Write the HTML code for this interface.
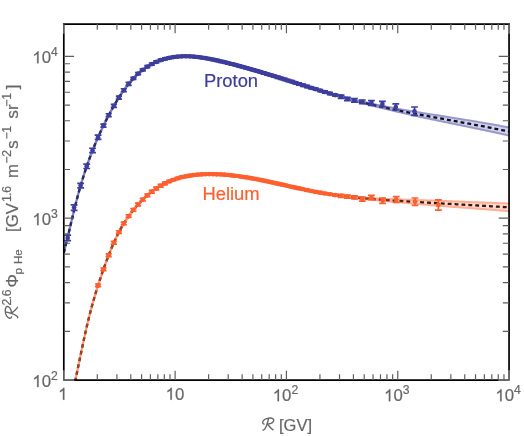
<!DOCTYPE html>
<html><head><meta charset="utf-8"><title>Proton and Helium flux</title>
<style>html,body{margin:0;padding:0;background:#fff;}body{width:524px;height:436px;overflow:hidden;font-family:"Liberation Sans",sans-serif;}</style>
</head><body>
<svg width="524" height="436" viewBox="0 0 524 436" style="display:block;will-change:transform;opacity:0.999" font-family="'Liberation Sans', sans-serif" fill="#666666">
<style>text{stroke:#666666;stroke-width:0.2px;paint-order:stroke} text.p{stroke:#3d3d9e} text.h{stroke:#ff5f2e}</style>
<rect width="524" height="436" fill="#ffffff"/>
<defs>
<linearGradient id="gp" gradientUnits="userSpaceOnUse" x1="330" y1="0" x2="410" y2="0"><stop offset="0" stop-color="#3d3d9e" stop-opacity="0.6"/><stop offset="1" stop-color="#3d3d9e" stop-opacity="0.38"/></linearGradient>
<linearGradient id="gh" gradientUnits="userSpaceOnUse" x1="330" y1="0" x2="410" y2="0"><stop offset="0" stop-color="#ff5f2e" stop-opacity="0.6"/><stop offset="1" stop-color="#ff5f2e" stop-opacity="0.36"/></linearGradient>
<filter id="bl" x="-5%" y="-5%" width="110%" height="110%"><feGaussianBlur stdDeviation="0.35"/></filter>
<clipPath id="cp"><rect x="63.8" y="24.05" width="445.25" height="356.0"/></clipPath></defs>
<g clip-path="url(#cp)"><g filter="url(#bl)">
<path d="M63.80 252.74 L65.30 246.98 L66.80 240.94 L68.30 234.70 L69.80 228.34 L71.30 221.95 L72.80 215.62 L74.30 209.42 L75.80 203.43 L77.30 197.68 L78.80 192.15 L80.30 186.84 L81.80 181.74 L83.30 176.83 L84.80 172.12 L86.30 167.58 L87.80 163.22 L89.30 159.02 L90.80 154.98 L92.30 151.07 L93.80 147.31 L95.30 143.66 L96.80 140.14 L98.30 136.72 L99.80 133.40 L101.30 130.16 L102.80 127.01 L104.30 123.93 L105.80 120.91 L107.30 117.96 L108.80 115.08 L110.30 112.27 L111.80 109.54 L113.30 106.87 L114.80 104.27 L116.30 101.75 L117.80 99.30 L119.30 96.93 L120.80 94.63 L122.30 92.40 L123.80 90.26 L125.30 88.18 L126.80 86.19 L128.30 84.27 L129.80 82.44 L131.30 80.68 L132.80 79.00 L134.30 77.41 L135.80 75.89 L137.30 74.45 L138.80 73.09 L140.30 71.80 L141.80 70.57 L143.30 69.42 L144.80 68.33 L146.30 67.30 L147.80 66.34 L149.30 65.43 L150.80 64.58 L152.30 63.79 L153.80 63.04 L155.30 62.34 L156.80 61.69 L158.30 61.09 L159.80 60.52 L161.30 60.00 L162.80 59.51 L164.30 59.06 L165.80 58.65 L167.30 58.27 L168.80 57.93 L170.30 57.62 L171.80 57.35 L173.30 57.11 L174.80 56.90 L176.30 56.72 L177.80 56.57 L179.30 56.45 L180.80 56.36 L182.30 56.30 L183.80 56.26 L185.30 56.25 L186.80 56.26 L188.30 56.29 L189.80 56.35 L191.30 56.44 L192.80 56.54 L194.30 56.66 L195.80 56.81 L197.30 56.97 L198.80 57.15 L200.30 57.35 L201.80 57.56 L203.30 57.79 L204.80 58.03 L206.30 58.29 L207.80 58.56 L209.30 58.85 L210.80 59.14 L212.30 59.44 L213.80 59.76 L215.30 60.08 L216.80 60.41 L218.30 60.75 L219.80 61.09 L221.30 61.44 L222.80 61.79 L224.30 62.15 L225.80 62.51 L227.30 62.88 L228.80 63.25 L230.30 63.63 L231.80 64.01 L233.30 64.40 L234.80 64.79 L236.30 65.18 L237.80 65.58 L239.30 65.98 L240.80 66.39 L242.30 66.80 L243.80 67.21 L245.30 67.63 L246.80 68.05 L248.30 68.47 L249.80 68.90 L251.30 69.33 L252.80 69.76 L254.30 70.19 L255.80 70.63 L257.30 71.07 L258.80 71.52 L260.30 71.96 L261.80 72.41 L263.30 72.86 L264.80 73.31 L266.30 73.77 L267.80 74.22 L269.30 74.68 L270.80 75.14 L272.30 75.60 L273.80 76.07 L275.30 76.53 L276.80 77.00 L278.30 77.46 L279.80 77.93 L281.30 78.40 L282.80 78.87 L284.30 79.34 L285.80 79.81 L287.30 80.28 L288.80 80.76 L290.30 81.23 L291.80 81.70 L293.30 82.17 L294.80 82.65 L296.30 83.12 L297.80 83.59 L299.30 84.07 L300.80 84.54 L302.30 85.01 L303.80 85.48 L305.30 85.95 L306.80 86.42 L308.30 86.89 L309.80 87.36 L311.30 87.83 L312.80 88.29 L314.30 88.76 L315.80 89.22 L317.30 89.68 L318.80 90.14 L320.30 90.60 L321.80 91.06 L323.30 91.51 L324.80 91.96 L326.30 92.41 L327.80 92.86 L329.30 93.31 L330.80 93.75 L332.30 94.19 L333.80 94.63 L335.30 95.07 L336.80 95.50 L338.30 95.93 L339.80 96.36 L341.30 96.78 L342.80 97.20 L344.30 97.62 L345.80 98.03 L347.30 98.44 L348.80 98.85 L350.30 99.25 L351.80 99.65 L353.30 100.04 L354.80 100.43 L356.30 100.82 L357.80 101.20 L359.30 101.59 L360.80 101.96 L362.30 102.34 L363.80 102.71 L365.30 103.07 L366.80 103.43 L368.30 103.79 L369.80 104.15 L371.30 104.51 L372.80 104.86 L374.30 105.20 L375.80 105.55 L377.30 105.89 L378.80 106.23 L380.30 106.57 L381.80 106.90 L383.30 107.23 L384.80 107.56 L386.30 107.89 L387.80 108.21 L389.30 108.53 L390.80 108.85 L392.30 109.17 L393.80 109.48 L395.30 109.79 L396.80 110.10 L398.30 110.41 L399.80 110.72 L401.30 111.02 L402.80 111.32 L404.30 111.62 L405.80 111.92 L407.30 112.22 L408.80 112.52 L410.30 112.81 L411.80 113.10 L413.30 113.39 L414.80 113.68 L416.30 113.97 L417.80 114.26 L419.30 114.54 L420.80 114.83 L422.30 115.11 L423.80 115.39 L425.30 115.67 L426.80 115.95 L428.30 116.23 L429.80 116.51 L431.30 116.79 L432.80 117.06 L434.30 117.34 L435.80 117.62 L437.30 117.89 L438.80 118.17 L440.30 118.44 L441.80 118.71 L443.30 118.99 L444.80 119.26 L446.30 119.53 L447.80 119.81 L449.30 120.08 L450.80 120.35 L452.30 120.63 L453.80 120.90 L455.30 121.17 L456.80 121.45 L458.30 121.72 L459.80 121.99 L461.30 122.27 L462.80 122.54 L464.30 122.82 L465.80 123.09 L467.30 123.37 L468.80 123.65 L470.30 123.92 L471.80 124.20 L473.30 124.48 L474.80 124.76 L476.30 125.05 L477.80 125.33 L479.30 125.61 L480.80 125.90 L482.30 126.18 L483.80 126.47 L485.30 126.76 L486.80 127.05 L488.30 127.34 L489.80 127.63 L491.30 127.93 L492.80 128.22 L494.30 128.52 L495.80 128.82 L497.30 129.12 L498.80 129.42 L500.30 129.73 L501.80 130.04 L503.30 130.34 L504.80 130.65 L506.30 130.97 L509.05 131.55" stroke="#000" stroke-width="2.3" stroke-dasharray="3.9 3.0" fill="none"/>
<path d="M63.80 435.52 L65.30 428.48 L66.80 421.39 L68.30 414.25 L69.80 407.07 L71.30 399.86 L72.80 392.63 L74.30 385.39 L75.80 378.13 L77.30 370.88 L78.80 363.64 L80.30 356.41 L81.80 349.22 L83.30 342.13 L84.80 335.22 L86.30 328.57 L87.80 322.22 L89.30 316.14 L90.80 310.34 L92.30 304.77 L93.80 299.44 L95.30 294.32 L96.80 289.38 L98.30 284.63 L99.80 280.03 L101.30 275.57 L102.80 271.23 L104.30 267.00 L105.80 262.88 L107.30 258.86 L108.80 254.95 L110.30 251.17 L111.80 247.52 L113.30 243.99 L114.80 240.61 L116.30 237.37 L117.80 234.28 L119.30 231.34 L120.80 228.56 L122.30 225.92 L123.80 223.42 L125.30 221.04 L126.80 218.77 L128.30 216.61 L129.80 214.55 L131.30 212.57 L132.80 210.66 L134.30 208.82 L135.80 207.05 L137.30 205.34 L138.80 203.68 L140.30 202.09 L141.80 200.55 L143.30 199.07 L144.80 197.65 L146.30 196.28 L147.80 194.96 L149.30 193.70 L150.80 192.49 L152.30 191.33 L153.80 190.22 L155.30 189.16 L156.80 188.15 L158.30 187.18 L159.80 186.25 L161.30 185.38 L162.80 184.54 L164.30 183.75 L165.80 182.99 L167.30 182.28 L168.80 181.61 L170.30 180.97 L171.80 180.37 L173.30 179.80 L174.80 179.28 L176.30 178.78 L177.80 178.31 L179.30 177.88 L180.80 177.48 L182.30 177.11 L183.80 176.76 L185.30 176.44 L186.80 176.15 L188.30 175.88 L189.80 175.64 L191.30 175.42 L192.80 175.22 L194.30 175.04 L195.80 174.88 L197.30 174.74 L198.80 174.61 L200.30 174.51 L201.80 174.41 L203.30 174.34 L204.80 174.28 L206.30 174.23 L207.80 174.19 L209.30 174.18 L210.80 174.17 L212.30 174.18 L213.80 174.20 L215.30 174.23 L216.80 174.28 L218.30 174.34 L219.80 174.41 L221.30 174.49 L222.80 174.59 L224.30 174.69 L225.80 174.81 L227.30 174.94 L228.80 175.08 L230.30 175.23 L231.80 175.38 L233.30 175.55 L234.80 175.73 L236.30 175.92 L237.80 176.11 L239.30 176.32 L240.80 176.53 L242.30 176.75 L243.80 176.98 L245.30 177.21 L246.80 177.46 L248.30 177.71 L249.80 177.97 L251.30 178.23 L252.80 178.50 L254.30 178.77 L255.80 179.06 L257.30 179.34 L258.80 179.63 L260.30 179.93 L261.80 180.23 L263.30 180.54 L264.80 180.85 L266.30 181.16 L267.80 181.48 L269.30 181.80 L270.80 182.12 L272.30 182.45 L273.80 182.78 L275.30 183.11 L276.80 183.44 L278.30 183.77 L279.80 184.11 L281.30 184.44 L282.80 184.78 L284.30 185.12 L285.80 185.46 L287.30 185.79 L288.80 186.13 L290.30 186.47 L291.80 186.81 L293.30 187.14 L294.80 187.48 L296.30 187.81 L297.80 188.14 L299.30 188.47 L300.80 188.79 L302.30 189.12 L303.80 189.44 L305.30 189.75 L306.80 190.07 L308.30 190.38 L309.80 190.68 L311.30 190.98 L312.80 191.28 L314.30 191.57 L315.80 191.86 L317.30 192.14 L318.80 192.42 L320.30 192.69 L321.80 192.95 L323.30 193.21 L324.80 193.46 L326.30 193.71 L327.80 193.95 L329.30 194.18 L330.80 194.41 L332.30 194.64 L333.80 194.85 L335.30 195.07 L336.80 195.28 L338.30 195.48 L339.80 195.68 L341.30 195.87 L342.80 196.06 L344.30 196.25 L345.80 196.43 L347.30 196.61 L348.80 196.78 L350.30 196.95 L351.80 197.11 L353.30 197.27 L354.80 197.43 L356.30 197.58 L357.80 197.73 L359.30 197.88 L360.80 198.02 L362.30 198.16 L363.80 198.30 L365.30 198.43 L366.80 198.56 L368.30 198.69 L369.80 198.81 L371.30 198.94 L372.80 199.06 L374.30 199.17 L375.80 199.29 L377.30 199.40 L378.80 199.51 L380.30 199.62 L381.80 199.73 L383.30 199.84 L384.80 199.94 L386.30 200.04 L387.80 200.15 L389.30 200.25 L390.80 200.35 L392.30 200.44 L393.80 200.54 L395.30 200.64 L396.80 200.73 L398.30 200.83 L399.80 200.92 L401.30 201.02 L402.80 201.11 L404.30 201.20 L405.80 201.30 L407.30 201.39 L408.80 201.48 L410.30 201.57 L411.80 201.67 L413.30 201.76 L414.80 201.85 L416.30 201.94 L417.80 202.03 L419.30 202.12 L420.80 202.21 L422.30 202.30 L423.80 202.39 L425.30 202.48 L426.80 202.57 L428.30 202.66 L429.80 202.74 L431.30 202.83 L432.80 202.92 L434.30 203.01 L435.80 203.10 L437.30 203.18 L438.80 203.27 L440.30 203.36 L441.80 203.45 L443.30 203.53 L444.80 203.62 L446.30 203.71 L447.80 203.79 L449.30 203.88 L450.80 203.97 L452.30 204.05 L453.80 204.14 L455.30 204.22 L456.80 204.31 L458.30 204.40 L459.80 204.48 L461.30 204.57 L462.80 204.65 L464.30 204.74 L465.80 204.82 L467.30 204.91 L468.80 205.00 L470.30 205.08 L471.80 205.17 L473.30 205.25 L474.80 205.34 L476.30 205.43 L477.80 205.51 L479.30 205.60 L480.80 205.68 L482.30 205.77 L483.80 205.86 L485.30 205.94 L486.80 206.03 L488.30 206.11 L489.80 206.20 L491.30 206.29 L492.80 206.38 L494.30 206.46 L495.80 206.55 L497.30 206.64 L498.80 206.72 L500.30 206.81 L501.80 206.90 L503.30 206.99 L504.80 207.08 L506.30 207.16 L509.05 207.33" stroke="#000" stroke-width="2.3" stroke-dasharray="3.9 3.0" fill="none"/>
<path d="M63.80 251.14 L65.30 245.38 L66.80 239.34 L68.30 233.10 L69.80 226.74 L71.30 220.35 L72.80 214.02 L74.30 207.82 L75.80 201.83 L77.30 196.08 L78.80 190.55 L80.30 185.24 L81.80 180.14 L83.30 175.23 L84.80 170.52 L86.30 165.98 L87.80 161.62 L89.30 157.42 L90.80 153.38 L92.30 149.47 L93.80 145.71 L95.30 142.06 L96.80 138.54 L98.30 135.12 L99.80 131.80 L101.30 128.56 L102.80 125.41 L104.30 122.33 L105.80 119.31 L107.30 116.36 L108.80 113.48 L110.30 110.67 L111.80 107.94 L113.30 105.27 L114.80 102.67 L116.30 100.15 L117.80 97.70 L119.30 95.33 L120.80 93.03 L122.30 90.80 L123.80 88.66 L125.30 86.58 L126.80 84.59 L128.30 82.67 L129.80 80.84 L131.30 79.08 L132.80 77.40 L134.30 75.81 L135.80 74.29 L137.30 72.85 L138.80 71.49 L140.30 70.20 L141.80 68.97 L143.30 67.82 L144.80 66.73 L146.30 65.70 L147.80 64.74 L149.30 63.83 L150.80 62.98 L152.30 62.19 L153.80 61.44 L155.30 60.74 L156.80 60.09 L158.30 59.49 L159.80 58.92 L161.30 58.40 L162.80 57.91 L164.30 57.46 L165.80 57.05 L167.30 56.67 L168.80 56.33 L170.30 56.02 L171.80 55.75 L173.30 55.51 L174.80 55.30 L176.30 55.12 L177.80 54.97 L179.30 54.85 L180.80 54.76 L182.30 54.70 L183.80 54.66 L185.30 54.65 L186.80 54.66 L188.30 54.69 L189.80 54.75 L191.30 54.84 L192.80 54.94 L194.30 55.06 L195.80 55.21 L197.30 55.37 L198.80 55.55 L200.30 55.75 L201.80 55.96 L203.30 56.19 L204.80 56.43 L206.30 56.69 L207.80 56.96 L209.30 57.25 L210.80 57.54 L212.30 57.84 L213.80 58.16 L215.30 58.48 L216.80 58.81 L218.30 59.15 L219.80 59.49 L221.30 59.84 L222.80 60.19 L224.30 60.55 L225.80 60.91 L227.30 61.28 L228.80 61.65 L230.30 62.03 L231.80 62.41 L233.30 62.80 L234.80 63.19 L236.30 63.58 L237.80 63.98 L239.30 64.38 L240.80 64.79 L242.30 65.20 L243.80 65.61 L245.30 66.03 L246.80 66.45 L248.30 66.87 L249.80 67.30 L251.30 67.73 L252.80 68.16 L254.30 68.59 L255.80 69.03 L257.30 69.47 L258.80 69.92 L260.30 70.36 L261.80 70.81 L263.30 71.26 L264.80 71.71 L266.30 72.17 L267.80 72.62 L269.30 73.08 L270.80 73.54 L272.30 74.00 L273.80 74.47 L275.30 74.93 L276.80 75.40 L278.30 75.86 L279.80 76.33 L281.30 76.80 L282.80 77.27 L284.30 77.74 L285.80 78.21 L287.30 78.68 L288.80 79.16 L290.30 79.63 L291.80 80.10 L293.30 80.57 L294.80 81.05 L296.30 81.52 L297.80 81.99 L299.30 82.47 L300.80 82.94 L302.30 83.41 L303.80 83.88 L305.30 84.35 L306.80 84.82 L308.30 85.29 L309.80 85.76 L311.30 86.23 L312.80 86.69 L314.30 87.16 L315.80 87.62 L317.30 88.08 L318.80 88.54 L320.30 89.00 L321.80 89.46 L323.30 89.91 L324.80 90.36 L326.30 90.81 L327.80 91.26 L329.30 91.71 L330.80 92.15 L332.30 92.59 L333.80 93.03 L335.30 93.47 L336.80 93.90 L338.30 94.33 L339.80 94.76 L341.30 95.18 L342.80 95.60 L344.30 96.01 L345.80 96.42 L347.30 96.82 L348.80 97.22 L350.30 97.61 L351.80 98.00 L353.30 98.39 L354.80 98.76 L356.30 99.14 L357.80 99.51 L359.30 99.87 L360.80 100.23 L362.30 100.59 L363.80 100.94 L365.30 101.28 L366.80 101.63 L368.30 101.97 L369.80 102.30 L371.30 102.64 L372.80 102.97 L374.30 103.29 L375.80 103.61 L377.30 103.93 L378.80 104.25 L380.30 104.56 L381.80 104.87 L383.30 105.17 L384.80 105.46 L386.30 105.75 L387.80 106.03 L389.30 106.31 L390.80 106.58 L392.30 106.85 L393.80 107.12 L395.30 107.39 L396.80 107.65 L398.30 107.91 L399.80 108.17 L401.30 108.43 L402.80 108.69 L404.30 108.95 L405.80 109.20 L407.30 109.45 L408.80 109.70 L410.30 109.94 L411.80 110.19 L413.30 110.43 L414.80 110.68 L416.30 110.92 L417.80 111.16 L419.30 111.41 L420.80 111.66 L422.30 111.90 L423.80 112.15 L425.30 112.39 L426.80 112.64 L428.30 112.89 L429.80 113.13 L431.30 113.38 L432.80 113.62 L434.30 113.87 L435.80 114.11 L437.30 114.35 L438.80 114.59 L440.30 114.83 L441.80 115.07 L443.30 115.31 L444.80 115.55 L446.30 115.79 L447.80 116.02 L449.30 116.26 L450.80 116.49 L452.30 116.73 L453.80 116.97 L455.30 117.20 L456.80 117.44 L458.30 117.68 L459.80 117.92 L461.30 118.16 L462.80 118.40 L464.30 118.64 L465.80 118.88 L467.30 119.13 L468.80 119.37 L470.30 119.62 L471.80 119.87 L473.30 120.12 L474.80 120.37 L476.30 120.62 L477.80 120.87 L479.30 121.13 L480.80 121.38 L482.30 121.64 L483.80 121.90 L485.30 122.16 L486.80 122.43 L488.30 122.69 L489.80 122.96 L491.30 123.22 L492.80 123.49 L494.30 123.77 L495.80 124.04 L497.30 124.32 L498.80 124.59 L500.30 124.87 L501.80 125.16 L503.30 125.44 L504.80 125.73 L506.30 126.02 L509.05 126.56 L509.05 136.53 L506.30 135.91 L504.80 135.58 L503.30 135.24 L501.80 134.91 L500.30 134.58 L498.80 134.25 L497.30 133.93 L495.80 133.60 L494.30 133.27 L492.80 132.95 L491.30 132.63 L489.80 132.31 L488.30 131.99 L486.80 131.67 L485.30 131.35 L483.80 131.04 L482.30 130.72 L480.80 130.41 L479.30 130.09 L477.80 129.78 L476.30 129.47 L474.80 129.16 L473.30 128.85 L471.80 128.54 L470.30 128.23 L468.80 127.92 L467.30 127.61 L465.80 127.30 L464.30 127.00 L462.80 126.69 L461.30 126.38 L459.80 126.07 L458.30 125.76 L456.80 125.45 L455.30 125.14 L453.80 124.83 L452.30 124.52 L450.80 124.21 L449.30 123.90 L447.80 123.59 L446.30 123.28 L444.80 122.97 L443.30 122.66 L441.80 122.36 L440.30 122.05 L438.80 121.74 L437.30 121.43 L435.80 121.12 L434.30 120.81 L432.80 120.51 L431.30 120.20 L429.80 119.89 L428.30 119.58 L426.80 119.26 L425.30 118.95 L423.80 118.63 L422.30 118.32 L420.80 118.00 L419.30 117.67 L417.80 117.35 L416.30 117.02 L414.80 116.69 L413.30 116.35 L411.80 116.01 L410.30 115.68 L408.80 115.33 L407.30 114.99 L405.80 114.65 L404.30 114.30 L402.80 113.96 L401.30 113.61 L399.80 113.26 L398.30 112.91 L396.80 112.56 L395.30 112.20 L393.80 111.84 L392.30 111.48 L390.80 111.12 L389.30 110.75 L387.80 110.39 L386.30 110.02 L384.80 109.66 L383.30 109.29 L381.80 108.93 L380.30 108.57 L378.80 108.21 L377.30 107.85 L375.80 107.48 L374.30 107.12 L372.80 106.75 L371.30 106.37 L369.80 106.00 L368.30 105.62 L366.80 105.24 L365.30 104.86 L363.80 104.47 L362.30 104.08 L360.80 103.69 L359.30 103.30 L357.80 102.90 L356.30 102.51 L354.80 102.10 L353.30 101.70 L351.80 101.29 L350.30 100.88 L348.80 100.47 L347.30 100.06 L345.80 99.64 L344.30 99.22 L342.80 98.80 L341.30 98.38 L339.80 97.96 L338.30 97.53 L336.80 97.10 L335.30 96.67 L333.80 96.23 L332.30 95.79 L330.80 95.35 L329.30 94.91 L327.80 94.46 L326.30 94.01 L324.80 93.56 L323.30 93.11 L321.80 92.66 L320.30 92.20 L318.80 91.74 L317.30 91.28 L315.80 90.82 L314.30 90.36 L312.80 89.89 L311.30 89.43 L309.80 88.96 L308.30 88.49 L306.80 88.02 L305.30 87.55 L303.80 87.08 L302.30 86.61 L300.80 86.14 L299.30 85.67 L297.80 85.19 L296.30 84.72 L294.80 84.25 L293.30 83.77 L291.80 83.30 L290.30 82.83 L288.80 82.36 L287.30 81.88 L285.80 81.41 L284.30 80.94 L282.80 80.47 L281.30 80.00 L279.80 79.53 L278.30 79.06 L276.80 78.60 L275.30 78.13 L273.80 77.67 L272.30 77.20 L270.80 76.74 L269.30 76.28 L267.80 75.82 L266.30 75.37 L264.80 74.91 L263.30 74.46 L261.80 74.01 L260.30 73.56 L258.80 73.12 L257.30 72.67 L255.80 72.23 L254.30 71.79 L252.80 71.36 L251.30 70.93 L249.80 70.50 L248.30 70.07 L246.80 69.65 L245.30 69.23 L243.80 68.81 L242.30 68.40 L240.80 67.99 L239.30 67.58 L237.80 67.18 L236.30 66.78 L234.80 66.39 L233.30 66.00 L231.80 65.61 L230.30 65.23 L228.80 64.85 L227.30 64.48 L225.80 64.11 L224.30 63.75 L222.80 63.39 L221.30 63.04 L219.80 62.69 L218.30 62.35 L216.80 62.01 L215.30 61.68 L213.80 61.36 L212.30 61.04 L210.80 60.74 L209.30 60.45 L207.80 60.16 L206.30 59.89 L204.80 59.63 L203.30 59.39 L201.80 59.16 L200.30 58.95 L198.80 58.75 L197.30 58.57 L195.80 58.41 L194.30 58.26 L192.80 58.14 L191.30 58.04 L189.80 57.95 L188.30 57.89 L186.80 57.86 L185.30 57.85 L183.80 57.86 L182.30 57.90 L180.80 57.96 L179.30 58.05 L177.80 58.17 L176.30 58.32 L174.80 58.50 L173.30 58.71 L171.80 58.95 L170.30 59.22 L168.80 59.53 L167.30 59.87 L165.80 60.25 L164.30 60.66 L162.80 61.11 L161.30 61.60 L159.80 62.12 L158.30 62.69 L156.80 63.29 L155.30 63.94 L153.80 64.64 L152.30 65.39 L150.80 66.18 L149.30 67.03 L147.80 67.94 L146.30 68.90 L144.80 69.93 L143.30 71.02 L141.80 72.17 L140.30 73.40 L138.80 74.69 L137.30 76.05 L135.80 77.49 L134.30 79.01 L132.80 80.60 L131.30 82.28 L129.80 84.04 L128.30 85.87 L126.80 87.79 L125.30 89.78 L123.80 91.86 L122.30 94.00 L120.80 96.23 L119.30 98.53 L117.80 100.90 L116.30 103.35 L114.80 105.87 L113.30 108.47 L111.80 111.14 L110.30 113.87 L108.80 116.68 L107.30 119.56 L105.80 122.51 L104.30 125.53 L102.80 128.61 L101.30 131.76 L99.80 135.00 L98.30 138.32 L96.80 141.74 L95.30 145.26 L93.80 148.91 L92.30 152.67 L90.80 156.58 L89.30 160.62 L87.80 164.82 L86.30 169.18 L84.80 173.72 L83.30 178.43 L81.80 183.34 L80.30 188.44 L78.80 193.75 L77.30 199.28 L75.80 205.03 L74.30 211.02 L72.80 217.22 L71.30 223.55 L69.80 229.94 L68.30 236.30 L66.80 242.54 L65.30 248.58 L63.80 254.34Z" fill="#3d3d9e" fill-opacity="0.24"/>
<path d="M63.80 252.14 L65.30 246.38 L66.80 240.34 L68.30 234.10 L69.80 227.74 L71.30 221.35 L72.80 215.02 L74.30 208.82 L75.80 202.83 L77.30 197.08 L78.80 191.55 L80.30 186.24 L81.80 181.14 L83.30 176.23 L84.80 171.52 L86.30 166.98 L87.80 162.62 L89.30 158.42 L90.80 154.38 L92.30 150.47 L93.80 146.71 L95.30 143.06 L96.80 139.54 L98.30 136.12 L99.80 132.80 L101.30 129.56 L102.80 126.41 L104.30 123.33 L105.80 120.31 L107.30 117.36 L108.80 114.48 L110.30 111.67 L111.80 108.94 L113.30 106.27 L114.80 103.67 L116.30 101.15 L117.80 98.70 L119.30 96.33 L120.80 94.03 L122.30 91.80 L123.80 89.66 L125.30 87.58 L126.80 85.59 L128.30 83.67 L129.80 81.84 L131.30 80.08 L132.80 78.40 L134.30 76.81 L135.80 75.29 L137.30 73.85 L138.80 72.49 L140.30 71.20 L141.80 69.97 L143.30 68.82 L144.80 67.73 L146.30 66.70 L147.80 65.74 L149.30 64.83 L150.80 63.98 L152.30 63.19 L153.80 62.44 L155.30 61.74 L156.80 61.09 L158.30 60.49 L159.80 59.92 L161.30 59.40 L162.80 58.91 L164.30 58.46 L165.80 58.05 L167.30 57.67 L168.80 57.33 L170.30 57.02 L171.80 56.75 L173.30 56.51 L174.80 56.30 L176.30 56.12 L177.80 55.97 L179.30 55.85 L180.80 55.76 L182.30 55.70 L183.80 55.66 L185.30 55.65 L186.80 55.66 L188.30 55.69 L189.80 55.75 L191.30 55.84 L192.80 55.94 L194.30 56.06 L195.80 56.21 L197.30 56.37 L198.80 56.55 L200.30 56.75 L201.80 56.96 L203.30 57.19 L204.80 57.43 L206.30 57.69 L207.80 57.96 L209.30 58.25 L210.80 58.54 L212.30 58.84 L213.80 59.16 L215.30 59.48 L216.80 59.81 L218.30 60.15 L219.80 60.49 L221.30 60.84 L222.80 61.19 L224.30 61.55 L225.80 61.91 L227.30 62.28 L228.80 62.65 L230.30 63.03 L231.80 63.41 L233.30 63.80 L234.80 64.19 L236.30 64.58 L237.80 64.98 L239.30 65.38 L240.80 65.79 L242.30 66.20 L243.80 66.61 L245.30 67.03 L246.80 67.45 L248.30 67.87 L249.80 68.30 L251.30 68.73 L252.80 69.16 L254.30 69.59 L255.80 70.03 L257.30 70.47 L258.80 70.92 L260.30 71.36 L261.80 71.81 L263.30 72.26 L264.80 72.71 L266.30 73.17 L267.80 73.62 L269.30 74.08 L270.80 74.54 L272.30 75.00 L273.80 75.47 L275.30 75.93 L276.80 76.40 L278.30 76.86 L279.80 77.33 L281.30 77.80 L282.80 78.27 L284.30 78.74 L285.80 79.21 L287.30 79.68 L288.80 80.16 L290.30 80.63 L291.80 81.10 L293.30 81.57 L294.80 82.05 L296.30 82.52 L297.80 82.99 L299.30 83.47 L300.80 83.94 L302.30 84.41 L303.80 84.88 L305.30 85.35 L306.80 85.82 L308.30 86.29 L309.80 86.76 L311.30 87.23 L312.80 87.69 L314.30 88.16 L315.80 88.62 L317.30 89.08 L318.80 89.54 L320.30 90.00 L321.80 90.46 L323.30 90.91 L324.80 91.36 L326.30 91.81 L327.80 92.26 L329.30 92.71 L330.80 93.15 L332.30 93.59 L333.80 94.03 L335.30 94.47 L336.80 94.90 L338.30 95.33 L339.80 95.76 L341.30 96.18 L342.80 96.60 L344.30 97.01 L345.80 97.42 L347.30 97.82 L348.80 98.22 L350.30 98.61 L351.80 99.00 L353.30 99.39 L354.80 99.76 L356.30 100.14 L357.80 100.51 L359.30 100.87 L360.80 101.23 L362.30 101.59 L363.80 101.94 L365.30 102.28 L366.80 102.63 L368.30 102.97 L369.80 103.30 L371.30 103.64 L372.80 103.97 L374.30 104.29 L375.80 104.61 L377.30 104.93 L378.80 105.25 L380.30 105.56 L381.80 105.87 L383.30 106.17 L384.80 106.46 L386.30 106.75 L387.80 107.03 L389.30 107.31 L390.80 107.58 L392.30 107.85 L393.80 108.12 L395.30 108.39 L396.80 108.65 L398.30 108.91 L399.80 109.17 L401.30 109.43 L402.80 109.69 L404.30 109.95 L405.80 110.20 L407.30 110.45 L408.80 110.70 L410.30 110.94 L411.80 111.19 L413.30 111.43 L414.80 111.68 L416.30 111.92 L417.80 112.16 L419.30 112.41 L420.80 112.66 L422.30 112.90 L423.80 113.15 L425.30 113.39 L426.80 113.64 L428.30 113.89 L429.80 114.13 L431.30 114.38 L432.80 114.62 L434.30 114.87 L435.80 115.11 L437.30 115.35 L438.80 115.59 L440.30 115.83 L441.80 116.07 L443.30 116.31 L444.80 116.55 L446.30 116.79 L447.80 117.02 L449.30 117.26 L450.80 117.49 L452.30 117.73 L453.80 117.97 L455.30 118.20 L456.80 118.44 L458.30 118.68 L459.80 118.92 L461.30 119.16 L462.80 119.40 L464.30 119.64 L465.80 119.88 L467.30 120.13 L468.80 120.37 L470.30 120.62 L471.80 120.87 L473.30 121.12 L474.80 121.37 L476.30 121.62 L477.80 121.87 L479.30 122.13 L480.80 122.38 L482.30 122.64 L483.80 122.90 L485.30 123.16 L486.80 123.43 L488.30 123.69 L489.80 123.96 L491.30 124.22 L492.80 124.49 L494.30 124.77 L495.80 125.04 L497.30 125.32 L498.80 125.59 L500.30 125.87 L501.80 126.16 L503.30 126.44 L504.80 126.73 L506.30 127.02 L509.05 127.56M63.80 253.34 L65.30 247.58 L66.80 241.54 L68.30 235.30 L69.80 228.94 L71.30 222.55 L72.80 216.22 L74.30 210.02 L75.80 204.03 L77.30 198.28 L78.80 192.75 L80.30 187.44 L81.80 182.34 L83.30 177.43 L84.80 172.72 L86.30 168.18 L87.80 163.82 L89.30 159.62 L90.80 155.58 L92.30 151.67 L93.80 147.91 L95.30 144.26 L96.80 140.74 L98.30 137.32 L99.80 134.00 L101.30 130.76 L102.80 127.61 L104.30 124.53 L105.80 121.51 L107.30 118.56 L108.80 115.68 L110.30 112.87 L111.80 110.14 L113.30 107.47 L114.80 104.87 L116.30 102.35 L117.80 99.90 L119.30 97.53 L120.80 95.23 L122.30 93.00 L123.80 90.86 L125.30 88.78 L126.80 86.79 L128.30 84.87 L129.80 83.04 L131.30 81.28 L132.80 79.60 L134.30 78.01 L135.80 76.49 L137.30 75.05 L138.80 73.69 L140.30 72.40 L141.80 71.17 L143.30 70.02 L144.80 68.93 L146.30 67.90 L147.80 66.94 L149.30 66.03 L150.80 65.18 L152.30 64.39 L153.80 63.64 L155.30 62.94 L156.80 62.29 L158.30 61.69 L159.80 61.12 L161.30 60.60 L162.80 60.11 L164.30 59.66 L165.80 59.25 L167.30 58.87 L168.80 58.53 L170.30 58.22 L171.80 57.95 L173.30 57.71 L174.80 57.50 L176.30 57.32 L177.80 57.17 L179.30 57.05 L180.80 56.96 L182.30 56.90 L183.80 56.86 L185.30 56.85 L186.80 56.86 L188.30 56.89 L189.80 56.95 L191.30 57.04 L192.80 57.14 L194.30 57.26 L195.80 57.41 L197.30 57.57 L198.80 57.75 L200.30 57.95 L201.80 58.16 L203.30 58.39 L204.80 58.63 L206.30 58.89 L207.80 59.16 L209.30 59.45 L210.80 59.74 L212.30 60.04 L213.80 60.36 L215.30 60.68 L216.80 61.01 L218.30 61.35 L219.80 61.69 L221.30 62.04 L222.80 62.39 L224.30 62.75 L225.80 63.11 L227.30 63.48 L228.80 63.85 L230.30 64.23 L231.80 64.61 L233.30 65.00 L234.80 65.39 L236.30 65.78 L237.80 66.18 L239.30 66.58 L240.80 66.99 L242.30 67.40 L243.80 67.81 L245.30 68.23 L246.80 68.65 L248.30 69.07 L249.80 69.50 L251.30 69.93 L252.80 70.36 L254.30 70.79 L255.80 71.23 L257.30 71.67 L258.80 72.12 L260.30 72.56 L261.80 73.01 L263.30 73.46 L264.80 73.91 L266.30 74.37 L267.80 74.82 L269.30 75.28 L270.80 75.74 L272.30 76.20 L273.80 76.67 L275.30 77.13 L276.80 77.60 L278.30 78.06 L279.80 78.53 L281.30 79.00 L282.80 79.47 L284.30 79.94 L285.80 80.41 L287.30 80.88 L288.80 81.36 L290.30 81.83 L291.80 82.30 L293.30 82.77 L294.80 83.25 L296.30 83.72 L297.80 84.19 L299.30 84.67 L300.80 85.14 L302.30 85.61 L303.80 86.08 L305.30 86.55 L306.80 87.02 L308.30 87.49 L309.80 87.96 L311.30 88.43 L312.80 88.89 L314.30 89.36 L315.80 89.82 L317.30 90.28 L318.80 90.74 L320.30 91.20 L321.80 91.66 L323.30 92.11 L324.80 92.56 L326.30 93.01 L327.80 93.46 L329.30 93.91 L330.80 94.35 L332.30 94.79 L333.80 95.23 L335.30 95.67 L336.80 96.10 L338.30 96.53 L339.80 96.96 L341.30 97.38 L342.80 97.80 L344.30 98.22 L345.80 98.64 L347.30 99.06 L348.80 99.47 L350.30 99.88 L351.80 100.29 L353.30 100.70 L354.80 101.10 L356.30 101.51 L357.80 101.90 L359.30 102.30 L360.80 102.69 L362.30 103.08 L363.80 103.47 L365.30 103.86 L366.80 104.24 L368.30 104.62 L369.80 105.00 L371.30 105.37 L372.80 105.75 L374.30 106.12 L375.80 106.48 L377.30 106.85 L378.80 107.21 L380.30 107.57 L381.80 107.93 L383.30 108.29 L384.80 108.66 L386.30 109.02 L387.80 109.39 L389.30 109.75 L390.80 110.12 L392.30 110.48 L393.80 110.84 L395.30 111.20 L396.80 111.56 L398.30 111.91 L399.80 112.26 L401.30 112.61 L402.80 112.96 L404.30 113.30 L405.80 113.65 L407.30 113.99 L408.80 114.33 L410.30 114.68 L411.80 115.01 L413.30 115.35 L414.80 115.69 L416.30 116.02 L417.80 116.35 L419.30 116.67 L420.80 117.00 L422.30 117.32 L423.80 117.63 L425.30 117.95 L426.80 118.26 L428.30 118.58 L429.80 118.89 L431.30 119.20 L432.80 119.51 L434.30 119.81 L435.80 120.12 L437.30 120.43 L438.80 120.74 L440.30 121.05 L441.80 121.36 L443.30 121.66 L444.80 121.97 L446.30 122.28 L447.80 122.59 L449.30 122.90 L450.80 123.21 L452.30 123.52 L453.80 123.83 L455.30 124.14 L456.80 124.45 L458.30 124.76 L459.80 125.07 L461.30 125.38 L462.80 125.69 L464.30 126.00 L465.80 126.30 L467.30 126.61 L468.80 126.92 L470.30 127.23 L471.80 127.54 L473.30 127.85 L474.80 128.16 L476.30 128.47 L477.80 128.78 L479.30 129.09 L480.80 129.41 L482.30 129.72 L483.80 130.04 L485.30 130.35 L486.80 130.67 L488.30 130.99 L489.80 131.31 L491.30 131.63 L492.80 131.95 L494.30 132.27 L495.80 132.60 L497.30 132.93 L498.80 133.25 L500.30 133.58 L501.80 133.91 L503.30 134.24 L504.80 134.58 L506.30 134.91 L509.05 135.53" stroke="url(#gp)" stroke-width="2.0" fill="none"/>
<path d="M63.80 433.92 L65.30 426.88 L66.80 419.79 L68.30 412.65 L69.80 405.47 L71.30 398.26 L72.80 391.03 L74.30 383.79 L75.80 376.53 L77.30 369.28 L78.80 362.04 L80.30 354.81 L81.80 347.62 L83.30 340.53 L84.80 333.62 L86.30 326.97 L87.80 320.62 L89.30 314.54 L90.80 308.74 L92.30 303.17 L93.80 297.84 L95.30 292.72 L96.80 287.78 L98.30 283.03 L99.80 278.43 L101.30 273.97 L102.80 269.63 L104.30 265.40 L105.80 261.28 L107.30 257.26 L108.80 253.35 L110.30 249.57 L111.80 245.92 L113.30 242.39 L114.80 239.01 L116.30 235.77 L117.80 232.68 L119.30 229.74 L120.80 226.96 L122.30 224.32 L123.80 221.82 L125.30 219.44 L126.80 217.17 L128.30 215.01 L129.80 212.95 L131.30 210.97 L132.80 209.06 L134.30 207.22 L135.80 205.45 L137.30 203.74 L138.80 202.08 L140.30 200.49 L141.80 198.95 L143.30 197.47 L144.80 196.05 L146.30 194.68 L147.80 193.36 L149.30 192.10 L150.80 190.89 L152.30 189.73 L153.80 188.62 L155.30 187.56 L156.80 186.55 L158.30 185.58 L159.80 184.65 L161.30 183.78 L162.80 182.94 L164.30 182.15 L165.80 181.39 L167.30 180.68 L168.80 180.01 L170.30 179.37 L171.80 178.77 L173.30 178.20 L174.80 177.68 L176.30 177.18 L177.80 176.71 L179.30 176.28 L180.80 175.88 L182.30 175.51 L183.80 175.16 L185.30 174.84 L186.80 174.55 L188.30 174.28 L189.80 174.04 L191.30 173.82 L192.80 173.62 L194.30 173.44 L195.80 173.28 L197.30 173.14 L198.80 173.01 L200.30 172.91 L201.80 172.81 L203.30 172.74 L204.80 172.68 L206.30 172.63 L207.80 172.59 L209.30 172.58 L210.80 172.57 L212.30 172.58 L213.80 172.60 L215.30 172.63 L216.80 172.68 L218.30 172.74 L219.80 172.81 L221.30 172.89 L222.80 172.99 L224.30 173.09 L225.80 173.21 L227.30 173.34 L228.80 173.48 L230.30 173.63 L231.80 173.78 L233.30 173.95 L234.80 174.13 L236.30 174.32 L237.80 174.51 L239.30 174.72 L240.80 174.93 L242.30 175.15 L243.80 175.38 L245.30 175.61 L246.80 175.86 L248.30 176.11 L249.80 176.37 L251.30 176.63 L252.80 176.90 L254.30 177.17 L255.80 177.46 L257.30 177.74 L258.80 178.03 L260.30 178.33 L261.80 178.63 L263.30 178.94 L264.80 179.25 L266.30 179.56 L267.80 179.88 L269.30 180.20 L270.80 180.52 L272.30 180.85 L273.80 181.18 L275.30 181.51 L276.80 181.84 L278.30 182.17 L279.80 182.51 L281.30 182.84 L282.80 183.18 L284.30 183.52 L285.80 183.86 L287.30 184.19 L288.80 184.53 L290.30 184.87 L291.80 185.21 L293.30 185.54 L294.80 185.88 L296.30 186.21 L297.80 186.54 L299.30 186.87 L300.80 187.19 L302.30 187.52 L303.80 187.84 L305.30 188.15 L306.80 188.47 L308.30 188.78 L309.80 189.08 L311.30 189.38 L312.80 189.68 L314.30 189.97 L315.80 190.26 L317.30 190.54 L318.80 190.82 L320.30 191.09 L321.80 191.35 L323.30 191.61 L324.80 191.86 L326.30 192.11 L327.80 192.35 L329.30 192.58 L330.80 192.81 L332.30 193.04 L333.80 193.25 L335.30 193.47 L336.80 193.68 L338.30 193.88 L339.80 194.08 L341.30 194.27 L342.80 194.46 L344.30 194.64 L345.80 194.82 L347.30 194.99 L348.80 195.16 L350.30 195.32 L351.80 195.47 L353.30 195.62 L354.80 195.77 L356.30 195.91 L357.80 196.04 L359.30 196.17 L360.80 196.30 L362.30 196.43 L363.80 196.55 L365.30 196.66 L366.80 196.78 L368.30 196.89 L369.80 196.99 L371.30 197.10 L372.80 197.20 L374.30 197.30 L375.80 197.39 L377.30 197.49 L378.80 197.58 L380.30 197.67 L381.80 197.75 L383.30 197.84 L384.80 197.91 L386.30 197.98 L387.80 198.05 L389.30 198.12 L390.80 198.18 L392.30 198.24 L393.80 198.30 L395.30 198.36 L396.80 198.42 L398.30 198.47 L399.80 198.53 L401.30 198.58 L402.80 198.64 L404.30 198.68 L405.80 198.73 L407.30 198.78 L408.80 198.82 L410.30 198.87 L411.80 198.91 L413.30 198.96 L414.80 199.00 L416.30 199.05 L417.80 199.09 L419.30 199.14 L420.80 199.19 L422.30 199.24 L423.80 199.29 L425.30 199.33 L426.80 199.38 L428.30 199.43 L429.80 199.48 L431.30 199.53 L432.80 199.58 L434.30 199.64 L435.80 199.69 L437.30 199.74 L438.80 199.80 L440.30 199.85 L441.80 199.91 L443.30 199.97 L444.80 200.03 L446.30 200.09 L447.80 200.15 L449.30 200.21 L450.80 200.27 L452.30 200.34 L453.80 200.40 L455.30 200.46 L456.80 200.53 L458.30 200.59 L459.80 200.65 L461.30 200.71 L462.80 200.78 L464.30 200.84 L465.80 200.90 L467.30 200.96 L468.80 201.02 L470.30 201.08 L471.80 201.13 L473.30 201.19 L474.80 201.25 L476.30 201.31 L477.80 201.36 L479.30 201.42 L480.80 201.47 L482.30 201.53 L483.80 201.59 L485.30 201.64 L486.80 201.70 L488.30 201.75 L489.80 201.81 L491.30 201.86 L492.80 201.92 L494.30 201.97 L495.80 202.03 L497.30 202.08 L498.80 202.13 L500.30 202.19 L501.80 202.24 L503.30 202.30 L504.80 202.35 L506.30 202.40 L509.05 202.50 L509.05 212.16 L506.30 211.93 L504.80 211.80 L503.30 211.68 L501.80 211.56 L500.30 211.44 L498.80 211.31 L497.30 211.19 L495.80 211.07 L494.30 210.95 L492.80 210.83 L491.30 210.71 L489.80 210.60 L488.30 210.48 L486.80 210.36 L485.30 210.24 L483.80 210.12 L482.30 210.01 L480.80 209.89 L479.30 209.78 L477.80 209.66 L476.30 209.54 L474.80 209.43 L473.30 209.32 L471.80 209.20 L470.30 209.09 L468.80 208.97 L467.30 208.86 L465.80 208.75 L464.30 208.64 L462.80 208.53 L461.30 208.42 L459.80 208.31 L458.30 208.20 L456.80 208.09 L455.30 207.98 L453.80 207.88 L452.30 207.77 L450.80 207.66 L449.30 207.55 L447.80 207.44 L446.30 207.32 L444.80 207.21 L443.30 207.10 L441.80 206.98 L440.30 206.87 L438.80 206.75 L437.30 206.63 L435.80 206.51 L434.30 206.38 L432.80 206.26 L431.30 206.13 L429.80 206.01 L428.30 205.88 L426.80 205.75 L425.30 205.62 L423.80 205.49 L422.30 205.36 L420.80 205.23 L419.30 205.10 L417.80 204.97 L416.30 204.83 L414.80 204.70 L413.30 204.56 L411.80 204.42 L410.30 204.28 L408.80 204.14 L407.30 204.00 L405.80 203.86 L404.30 203.72 L402.80 203.59 L401.30 203.45 L399.80 203.32 L398.30 203.18 L396.80 203.05 L395.30 202.92 L393.80 202.78 L392.30 202.64 L390.80 202.51 L389.30 202.37 L387.80 202.24 L386.30 202.10 L384.80 201.97 L383.30 201.84 L381.80 201.71 L380.30 201.58 L378.80 201.45 L377.30 201.32 L375.80 201.18 L374.30 201.05 L372.80 200.91 L371.30 200.77 L369.80 200.63 L368.30 200.49 L366.80 200.34 L365.30 200.19 L363.80 200.04 L362.30 199.89 L360.80 199.74 L359.30 199.58 L357.80 199.42 L356.30 199.26 L354.80 199.09 L353.30 198.92 L351.80 198.75 L350.30 198.58 L348.80 198.40 L347.30 198.22 L345.80 198.04 L344.30 197.85 L342.80 197.67 L341.30 197.47 L339.80 197.28 L338.30 197.08 L336.80 196.88 L335.30 196.67 L333.80 196.45 L332.30 196.24 L330.80 196.01 L329.30 195.78 L327.80 195.55 L326.30 195.31 L324.80 195.06 L323.30 194.81 L321.80 194.55 L320.30 194.29 L318.80 194.02 L317.30 193.74 L315.80 193.46 L314.30 193.17 L312.80 192.88 L311.30 192.58 L309.80 192.28 L308.30 191.98 L306.80 191.67 L305.30 191.35 L303.80 191.04 L302.30 190.72 L300.80 190.39 L299.30 190.07 L297.80 189.74 L296.30 189.41 L294.80 189.08 L293.30 188.74 L291.80 188.41 L290.30 188.07 L288.80 187.73 L287.30 187.39 L285.80 187.06 L284.30 186.72 L282.80 186.38 L281.30 186.04 L279.80 185.71 L278.30 185.37 L276.80 185.04 L275.30 184.71 L273.80 184.38 L272.30 184.05 L270.80 183.72 L269.30 183.40 L267.80 183.08 L266.30 182.76 L264.80 182.45 L263.30 182.14 L261.80 181.83 L260.30 181.53 L258.80 181.23 L257.30 180.94 L255.80 180.66 L254.30 180.37 L252.80 180.10 L251.30 179.83 L249.80 179.57 L248.30 179.31 L246.80 179.06 L245.30 178.81 L243.80 178.58 L242.30 178.35 L240.80 178.13 L239.30 177.92 L237.80 177.71 L236.30 177.52 L234.80 177.33 L233.30 177.15 L231.80 176.98 L230.30 176.83 L228.80 176.68 L227.30 176.54 L225.80 176.41 L224.30 176.29 L222.80 176.19 L221.30 176.09 L219.80 176.01 L218.30 175.94 L216.80 175.88 L215.30 175.83 L213.80 175.80 L212.30 175.78 L210.80 175.77 L209.30 175.78 L207.80 175.79 L206.30 175.83 L204.80 175.88 L203.30 175.94 L201.80 176.01 L200.30 176.11 L198.80 176.21 L197.30 176.34 L195.80 176.48 L194.30 176.64 L192.80 176.82 L191.30 177.02 L189.80 177.24 L188.30 177.48 L186.80 177.75 L185.30 178.04 L183.80 178.36 L182.30 178.71 L180.80 179.08 L179.30 179.48 L177.80 179.91 L176.30 180.38 L174.80 180.88 L173.30 181.40 L171.80 181.97 L170.30 182.57 L168.80 183.21 L167.30 183.88 L165.80 184.59 L164.30 185.35 L162.80 186.14 L161.30 186.98 L159.80 187.85 L158.30 188.78 L156.80 189.75 L155.30 190.76 L153.80 191.82 L152.30 192.93 L150.80 194.09 L149.30 195.30 L147.80 196.56 L146.30 197.88 L144.80 199.25 L143.30 200.67 L141.80 202.15 L140.30 203.69 L138.80 205.28 L137.30 206.94 L135.80 208.65 L134.30 210.42 L132.80 212.26 L131.30 214.17 L129.80 216.15 L128.30 218.21 L126.80 220.37 L125.30 222.64 L123.80 225.02 L122.30 227.52 L120.80 230.16 L119.30 232.94 L117.80 235.88 L116.30 238.97 L114.80 242.21 L113.30 245.59 L111.80 249.12 L110.30 252.77 L108.80 256.55 L107.30 260.46 L105.80 264.48 L104.30 268.60 L102.80 272.83 L101.30 277.17 L99.80 281.63 L98.30 286.23 L96.80 290.98 L95.30 295.92 L93.80 301.04 L92.30 306.37 L90.80 311.94 L89.30 317.74 L87.80 323.82 L86.30 330.17 L84.80 336.82 L83.30 343.73 L81.80 350.82 L80.30 358.01 L78.80 365.24 L77.30 372.48 L75.80 379.73 L74.30 386.99 L72.80 394.23 L71.30 401.46 L69.80 408.67 L68.30 415.85 L66.80 422.99 L65.30 430.08 L63.80 437.12Z" fill="#ff5f2e" fill-opacity="0.22"/>
<path d="M63.80 434.92 L65.30 427.88 L66.80 420.79 L68.30 413.65 L69.80 406.47 L71.30 399.26 L72.80 392.03 L74.30 384.79 L75.80 377.53 L77.30 370.28 L78.80 363.04 L80.30 355.81 L81.80 348.62 L83.30 341.53 L84.80 334.62 L86.30 327.97 L87.80 321.62 L89.30 315.54 L90.80 309.74 L92.30 304.17 L93.80 298.84 L95.30 293.72 L96.80 288.78 L98.30 284.03 L99.80 279.43 L101.30 274.97 L102.80 270.63 L104.30 266.40 L105.80 262.28 L107.30 258.26 L108.80 254.35 L110.30 250.57 L111.80 246.92 L113.30 243.39 L114.80 240.01 L116.30 236.77 L117.80 233.68 L119.30 230.74 L120.80 227.96 L122.30 225.32 L123.80 222.82 L125.30 220.44 L126.80 218.17 L128.30 216.01 L129.80 213.95 L131.30 211.97 L132.80 210.06 L134.30 208.22 L135.80 206.45 L137.30 204.74 L138.80 203.08 L140.30 201.49 L141.80 199.95 L143.30 198.47 L144.80 197.05 L146.30 195.68 L147.80 194.36 L149.30 193.10 L150.80 191.89 L152.30 190.73 L153.80 189.62 L155.30 188.56 L156.80 187.55 L158.30 186.58 L159.80 185.65 L161.30 184.78 L162.80 183.94 L164.30 183.15 L165.80 182.39 L167.30 181.68 L168.80 181.01 L170.30 180.37 L171.80 179.77 L173.30 179.20 L174.80 178.68 L176.30 178.18 L177.80 177.71 L179.30 177.28 L180.80 176.88 L182.30 176.51 L183.80 176.16 L185.30 175.84 L186.80 175.55 L188.30 175.28 L189.80 175.04 L191.30 174.82 L192.80 174.62 L194.30 174.44 L195.80 174.28 L197.30 174.14 L198.80 174.01 L200.30 173.91 L201.80 173.81 L203.30 173.74 L204.80 173.68 L206.30 173.63 L207.80 173.59 L209.30 173.58 L210.80 173.57 L212.30 173.58 L213.80 173.60 L215.30 173.63 L216.80 173.68 L218.30 173.74 L219.80 173.81 L221.30 173.89 L222.80 173.99 L224.30 174.09 L225.80 174.21 L227.30 174.34 L228.80 174.48 L230.30 174.63 L231.80 174.78 L233.30 174.95 L234.80 175.13 L236.30 175.32 L237.80 175.51 L239.30 175.72 L240.80 175.93 L242.30 176.15 L243.80 176.38 L245.30 176.61 L246.80 176.86 L248.30 177.11 L249.80 177.37 L251.30 177.63 L252.80 177.90 L254.30 178.17 L255.80 178.46 L257.30 178.74 L258.80 179.03 L260.30 179.33 L261.80 179.63 L263.30 179.94 L264.80 180.25 L266.30 180.56 L267.80 180.88 L269.30 181.20 L270.80 181.52 L272.30 181.85 L273.80 182.18 L275.30 182.51 L276.80 182.84 L278.30 183.17 L279.80 183.51 L281.30 183.84 L282.80 184.18 L284.30 184.52 L285.80 184.86 L287.30 185.19 L288.80 185.53 L290.30 185.87 L291.80 186.21 L293.30 186.54 L294.80 186.88 L296.30 187.21 L297.80 187.54 L299.30 187.87 L300.80 188.19 L302.30 188.52 L303.80 188.84 L305.30 189.15 L306.80 189.47 L308.30 189.78 L309.80 190.08 L311.30 190.38 L312.80 190.68 L314.30 190.97 L315.80 191.26 L317.30 191.54 L318.80 191.82 L320.30 192.09 L321.80 192.35 L323.30 192.61 L324.80 192.86 L326.30 193.11 L327.80 193.35 L329.30 193.58 L330.80 193.81 L332.30 194.04 L333.80 194.25 L335.30 194.47 L336.80 194.68 L338.30 194.88 L339.80 195.08 L341.30 195.27 L342.80 195.46 L344.30 195.64 L345.80 195.82 L347.30 195.99 L348.80 196.16 L350.30 196.32 L351.80 196.47 L353.30 196.62 L354.80 196.77 L356.30 196.91 L357.80 197.04 L359.30 197.17 L360.80 197.30 L362.30 197.43 L363.80 197.55 L365.30 197.66 L366.80 197.78 L368.30 197.89 L369.80 197.99 L371.30 198.10 L372.80 198.20 L374.30 198.30 L375.80 198.39 L377.30 198.49 L378.80 198.58 L380.30 198.67 L381.80 198.75 L383.30 198.84 L384.80 198.91 L386.30 198.98 L387.80 199.05 L389.30 199.12 L390.80 199.18 L392.30 199.24 L393.80 199.30 L395.30 199.36 L396.80 199.42 L398.30 199.47 L399.80 199.53 L401.30 199.58 L402.80 199.64 L404.30 199.68 L405.80 199.73 L407.30 199.78 L408.80 199.82 L410.30 199.87 L411.80 199.91 L413.30 199.96 L414.80 200.00 L416.30 200.05 L417.80 200.09 L419.30 200.14 L420.80 200.19 L422.30 200.24 L423.80 200.29 L425.30 200.33 L426.80 200.38 L428.30 200.43 L429.80 200.48 L431.30 200.53 L432.80 200.58 L434.30 200.64 L435.80 200.69 L437.30 200.74 L438.80 200.80 L440.30 200.85 L441.80 200.91 L443.30 200.97 L444.80 201.03 L446.30 201.09 L447.80 201.15 L449.30 201.21 L450.80 201.27 L452.30 201.34 L453.80 201.40 L455.30 201.46 L456.80 201.53 L458.30 201.59 L459.80 201.65 L461.30 201.71 L462.80 201.78 L464.30 201.84 L465.80 201.90 L467.30 201.96 L468.80 202.02 L470.30 202.08 L471.80 202.13 L473.30 202.19 L474.80 202.25 L476.30 202.31 L477.80 202.36 L479.30 202.42 L480.80 202.47 L482.30 202.53 L483.80 202.59 L485.30 202.64 L486.80 202.70 L488.30 202.75 L489.80 202.81 L491.30 202.86 L492.80 202.92 L494.30 202.97 L495.80 203.03 L497.30 203.08 L498.80 203.13 L500.30 203.19 L501.80 203.24 L503.30 203.30 L504.80 203.35 L506.30 203.40 L509.05 203.50M63.80 436.12 L65.30 429.08 L66.80 421.99 L68.30 414.85 L69.80 407.67 L71.30 400.46 L72.80 393.23 L74.30 385.99 L75.80 378.73 L77.30 371.48 L78.80 364.24 L80.30 357.01 L81.80 349.82 L83.30 342.73 L84.80 335.82 L86.30 329.17 L87.80 322.82 L89.30 316.74 L90.80 310.94 L92.30 305.37 L93.80 300.04 L95.30 294.92 L96.80 289.98 L98.30 285.23 L99.80 280.63 L101.30 276.17 L102.80 271.83 L104.30 267.60 L105.80 263.48 L107.30 259.46 L108.80 255.55 L110.30 251.77 L111.80 248.12 L113.30 244.59 L114.80 241.21 L116.30 237.97 L117.80 234.88 L119.30 231.94 L120.80 229.16 L122.30 226.52 L123.80 224.02 L125.30 221.64 L126.80 219.37 L128.30 217.21 L129.80 215.15 L131.30 213.17 L132.80 211.26 L134.30 209.42 L135.80 207.65 L137.30 205.94 L138.80 204.28 L140.30 202.69 L141.80 201.15 L143.30 199.67 L144.80 198.25 L146.30 196.88 L147.80 195.56 L149.30 194.30 L150.80 193.09 L152.30 191.93 L153.80 190.82 L155.30 189.76 L156.80 188.75 L158.30 187.78 L159.80 186.85 L161.30 185.98 L162.80 185.14 L164.30 184.35 L165.80 183.59 L167.30 182.88 L168.80 182.21 L170.30 181.57 L171.80 180.97 L173.30 180.40 L174.80 179.88 L176.30 179.38 L177.80 178.91 L179.30 178.48 L180.80 178.08 L182.30 177.71 L183.80 177.36 L185.30 177.04 L186.80 176.75 L188.30 176.48 L189.80 176.24 L191.30 176.02 L192.80 175.82 L194.30 175.64 L195.80 175.48 L197.30 175.34 L198.80 175.21 L200.30 175.11 L201.80 175.01 L203.30 174.94 L204.80 174.88 L206.30 174.83 L207.80 174.79 L209.30 174.78 L210.80 174.77 L212.30 174.78 L213.80 174.80 L215.30 174.83 L216.80 174.88 L218.30 174.94 L219.80 175.01 L221.30 175.09 L222.80 175.19 L224.30 175.29 L225.80 175.41 L227.30 175.54 L228.80 175.68 L230.30 175.83 L231.80 175.98 L233.30 176.15 L234.80 176.33 L236.30 176.52 L237.80 176.71 L239.30 176.92 L240.80 177.13 L242.30 177.35 L243.80 177.58 L245.30 177.81 L246.80 178.06 L248.30 178.31 L249.80 178.57 L251.30 178.83 L252.80 179.10 L254.30 179.37 L255.80 179.66 L257.30 179.94 L258.80 180.23 L260.30 180.53 L261.80 180.83 L263.30 181.14 L264.80 181.45 L266.30 181.76 L267.80 182.08 L269.30 182.40 L270.80 182.72 L272.30 183.05 L273.80 183.38 L275.30 183.71 L276.80 184.04 L278.30 184.37 L279.80 184.71 L281.30 185.04 L282.80 185.38 L284.30 185.72 L285.80 186.06 L287.30 186.39 L288.80 186.73 L290.30 187.07 L291.80 187.41 L293.30 187.74 L294.80 188.08 L296.30 188.41 L297.80 188.74 L299.30 189.07 L300.80 189.39 L302.30 189.72 L303.80 190.04 L305.30 190.35 L306.80 190.67 L308.30 190.98 L309.80 191.28 L311.30 191.58 L312.80 191.88 L314.30 192.17 L315.80 192.46 L317.30 192.74 L318.80 193.02 L320.30 193.29 L321.80 193.55 L323.30 193.81 L324.80 194.06 L326.30 194.31 L327.80 194.55 L329.30 194.78 L330.80 195.01 L332.30 195.24 L333.80 195.45 L335.30 195.67 L336.80 195.88 L338.30 196.08 L339.80 196.28 L341.30 196.47 L342.80 196.67 L344.30 196.85 L345.80 197.04 L347.30 197.22 L348.80 197.40 L350.30 197.58 L351.80 197.75 L353.30 197.92 L354.80 198.09 L356.30 198.26 L357.80 198.42 L359.30 198.58 L360.80 198.74 L362.30 198.89 L363.80 199.04 L365.30 199.19 L366.80 199.34 L368.30 199.49 L369.80 199.63 L371.30 199.77 L372.80 199.91 L374.30 200.05 L375.80 200.18 L377.30 200.32 L378.80 200.45 L380.30 200.58 L381.80 200.71 L383.30 200.84 L384.80 200.97 L386.30 201.10 L387.80 201.24 L389.30 201.37 L390.80 201.51 L392.30 201.64 L393.80 201.78 L395.30 201.92 L396.80 202.05 L398.30 202.18 L399.80 202.32 L401.30 202.45 L402.80 202.59 L404.30 202.72 L405.80 202.86 L407.30 203.00 L408.80 203.14 L410.30 203.28 L411.80 203.42 L413.30 203.56 L414.80 203.70 L416.30 203.83 L417.80 203.97 L419.30 204.10 L420.80 204.23 L422.30 204.36 L423.80 204.49 L425.30 204.62 L426.80 204.75 L428.30 204.88 L429.80 205.01 L431.30 205.13 L432.80 205.26 L434.30 205.38 L435.80 205.51 L437.30 205.63 L438.80 205.75 L440.30 205.87 L441.80 205.98 L443.30 206.10 L444.80 206.21 L446.30 206.32 L447.80 206.44 L449.30 206.55 L450.80 206.66 L452.30 206.77 L453.80 206.88 L455.30 206.98 L456.80 207.09 L458.30 207.20 L459.80 207.31 L461.30 207.42 L462.80 207.53 L464.30 207.64 L465.80 207.75 L467.30 207.86 L468.80 207.97 L470.30 208.09 L471.80 208.20 L473.30 208.32 L474.80 208.43 L476.30 208.54 L477.80 208.66 L479.30 208.78 L480.80 208.89 L482.30 209.01 L483.80 209.12 L485.30 209.24 L486.80 209.36 L488.30 209.48 L489.80 209.60 L491.30 209.71 L492.80 209.83 L494.30 209.95 L495.80 210.07 L497.30 210.19 L498.80 210.31 L500.30 210.44 L501.80 210.56 L503.30 210.68 L504.80 210.80 L506.30 210.93 L509.05 211.16" stroke="url(#gh)" stroke-width="2.0" fill="none"/>
<path d="M67.70 235.20V240.60M64.30 235.20H71.10M64.30 240.60H71.10M74.10 204.90V210.30M70.70 204.90H77.50M70.70 210.30H77.50M80.65 183.42V187.82M77.25 183.42H84.05M77.25 187.82H84.05M86.73 164.12V168.52M83.33 164.12H90.13M83.33 168.52H90.13M92.54 148.27V152.67M89.14 148.27H95.94M89.14 152.67H95.94M98.07 135.04V139.44M94.67 135.04H101.47M94.67 139.44H101.47M103.46 124.14V127.14M100.36 124.14H106.56M100.36 127.14H106.56M108.70 113.77V116.77M105.60 113.77H111.80M105.60 116.77H111.80M113.85 104.41V107.41M110.75 104.41H116.95M110.75 107.41H116.95M118.90 96.06V99.06M115.80 96.06H122.00M115.80 99.06H122.00M123.81 88.74V91.74M120.71 88.74H126.91M120.71 91.74H126.91M128.66 82.33V85.33M125.56 82.33H131.76M125.56 85.33H131.76M133.41 77.30V79.40M130.31 77.30H136.51M130.31 79.40H136.51M138.09 72.67V74.77M134.99 72.67H141.19M134.99 74.77H141.19M142.74 68.79V70.89M139.64 68.79H145.84M139.64 70.89H145.84M147.33 65.59V67.69M144.23 65.59H150.43M144.23 67.69H150.43M151.83 62.98V65.08M148.73 62.98H154.93M148.73 65.08H154.93M156.28 60.86V62.96M153.18 60.86H159.38M153.18 62.96H159.38M160.67 59.16V61.26M157.57 59.16H163.77M157.57 61.26H163.77M165.00 57.81V59.91M161.90 57.81H168.10M161.90 59.91H168.10M169.27 56.78V58.88M166.17 56.78H172.37M166.17 58.88H172.37M173.49 56.03V58.13M170.39 56.03H176.59M170.39 58.13H176.59M177.66 55.53V57.63M174.56 55.53H180.76M174.56 57.63H180.76M181.82 55.26V57.36M178.72 55.26H184.92M178.72 57.36H184.92M185.86 55.20V57.30M182.76 55.20H188.96M182.76 57.30H188.96M189.76 55.30V57.40M186.66 55.30H192.86M186.66 57.40H192.86M193.70 55.56V57.66M190.60 55.56H196.80M190.60 57.66H196.80M197.64 55.96V58.06M194.54 55.96H200.74M194.54 58.06H200.74M201.57 56.48V58.58M198.47 56.48H204.67M198.47 58.58H204.67M205.46 57.10V59.20M202.36 57.10H208.56M202.36 59.20H208.56M209.30 57.80V59.90M206.20 57.80H212.40M206.20 59.90H212.40M213.08 58.56V60.66M209.98 58.56H216.18M209.98 60.66H216.18M216.89 59.38V61.48M213.79 59.38H219.99M213.79 61.48H219.99M220.71 60.25V62.35M217.61 60.25H223.81M217.61 62.35H223.81M224.42 61.13V63.23M221.32 61.13H227.52M221.32 63.23H227.52M228.11 62.03V64.13M225.01 62.03H231.21M225.01 64.13H231.21M231.76 62.95V65.05M228.66 62.95H234.86M228.66 65.05H234.86M235.36 63.89V65.99M232.26 63.89H238.46M232.26 65.99H238.46M238.98 64.84V66.94M235.88 64.84H242.08M235.88 66.94H242.08M242.58 65.82V67.92M239.48 65.82H245.68M239.48 67.92H245.68M246.15 66.82V68.92M243.05 66.82H249.25M243.05 68.92H249.25M249.69 67.81V69.91M246.59 67.81H252.79M246.59 69.91H252.79M253.22 68.83V70.93M250.12 68.83H256.32M250.12 70.93H256.32M256.74 69.86V71.96M253.64 69.86H259.84M253.64 71.96H259.84M260.23 70.89V72.99M257.13 70.89H263.33M257.13 72.99H263.33M263.71 71.93V74.03M260.61 71.93H266.81M260.61 74.03H266.81M267.21 72.99V75.09M264.11 72.99H270.31M264.11 75.09H270.31M270.71 74.06V76.16M267.61 74.06H273.81M267.61 76.16H273.81M274.20 75.14V77.24M271.10 75.14H277.30M271.10 77.24H277.30M277.68 76.22V78.32M274.58 76.22H280.78M274.58 78.32H280.78M281.17 77.31V79.41M278.07 77.31H284.27M278.07 79.41H284.27M284.67 78.41V80.51M281.57 78.41H287.77M281.57 80.51H287.77M288.29 79.54V81.64M285.19 79.54H291.39M285.19 81.64H291.39M291.87 80.67V82.77M288.77 80.67H294.97M288.77 82.77H294.97M295.41 81.79V83.89M292.31 81.79H298.51M292.31 83.89H298.51M299.07 82.94V85.04M295.97 82.94H302.17M295.97 85.04H302.17M302.99 84.18V86.28M299.89 84.18H306.09M299.89 86.28H306.09M307.10 85.47V87.57M304.00 85.47H310.20M304.00 87.57H310.20M311.31 86.78V88.88M308.21 86.78H314.41M308.21 88.88H314.41M315.72 88.15V90.25M312.62 88.15H318.82M312.62 90.25H318.82M320.24 89.53V91.63M317.14 89.53H323.34M317.14 91.63H323.34M324.92 90.95V93.05M321.82 90.95H328.02M321.82 93.05H328.02M329.87 92.43V94.53M326.77 92.43H332.97M326.77 94.53H332.97M335.25 94.00V96.10M332.15 94.00H338.35M332.15 96.10H338.35M341.10 95.12V98.32M337.70 95.12H344.50M337.70 98.32H344.50M347.40 97.30V100.70M344.00 97.30H350.80M344.00 100.70H350.80M354.40 98.50V102.10M351.00 98.50H357.80M351.00 102.10H357.80M362.30 100.00V103.70M358.90 100.00H365.70M358.90 103.70H365.70M371.40 100.70V105.40M368.00 100.70H374.80M368.00 105.40H374.80M382.40 101.40V106.70M379.00 101.40H385.80M379.00 106.70H385.80M395.80 103.80V110.00M392.40 103.80H399.20M392.40 110.00H399.20M414.50 107.00V115.40M411.10 107.00H417.90M411.10 115.40H417.90" stroke="#3d3d9e" stroke-width="1.7" fill="none"/>
<g fill="#3d3d9e"><circle cx="67.70" cy="237.90" r="2.35"/><circle cx="74.10" cy="207.60" r="2.35"/><circle cx="80.65" cy="185.62" r="2.35"/><circle cx="86.73" cy="166.32" r="2.35"/><circle cx="92.54" cy="150.47" r="2.35"/><circle cx="98.07" cy="137.24" r="2.35"/><circle cx="103.46" cy="125.64" r="2.35"/><circle cx="108.70" cy="115.27" r="2.35"/><circle cx="113.85" cy="105.91" r="2.35"/><circle cx="118.90" cy="97.56" r="2.35"/><circle cx="123.81" cy="90.24" r="2.35"/><circle cx="128.66" cy="83.83" r="2.35"/><circle cx="133.41" cy="78.35" r="2.35"/><circle cx="138.09" cy="73.72" r="2.35"/><circle cx="142.74" cy="69.84" r="2.35"/><circle cx="147.33" cy="66.64" r="2.35"/><circle cx="151.83" cy="64.03" r="2.35"/><circle cx="156.28" cy="61.91" r="2.35"/><circle cx="160.67" cy="60.21" r="2.35"/><circle cx="165.00" cy="58.86" r="2.35"/><circle cx="169.27" cy="57.83" r="2.35"/><circle cx="173.49" cy="57.08" r="2.35"/><circle cx="177.66" cy="56.58" r="2.35"/><circle cx="181.82" cy="56.31" r="2.35"/><circle cx="185.86" cy="56.25" r="2.35"/><circle cx="189.76" cy="56.35" r="2.35"/><circle cx="193.70" cy="56.61" r="2.35"/><circle cx="197.64" cy="57.01" r="2.35"/><circle cx="201.57" cy="57.53" r="2.35"/><circle cx="205.46" cy="58.15" r="2.35"/><circle cx="209.30" cy="58.85" r="2.35"/><circle cx="213.08" cy="59.61" r="2.35"/><circle cx="216.89" cy="60.43" r="2.35"/><circle cx="220.71" cy="61.30" r="2.35"/><circle cx="224.42" cy="62.18" r="2.35"/><circle cx="228.11" cy="63.08" r="2.35"/><circle cx="231.76" cy="64.00" r="2.35"/><circle cx="235.36" cy="64.94" r="2.35"/><circle cx="238.98" cy="65.89" r="2.35"/><circle cx="242.58" cy="66.87" r="2.35"/><circle cx="246.15" cy="67.87" r="2.35"/><circle cx="249.69" cy="68.86" r="2.35"/><circle cx="253.22" cy="69.88" r="2.35"/><circle cx="256.74" cy="70.91" r="2.35"/><circle cx="260.23" cy="71.94" r="2.35"/><circle cx="263.71" cy="72.98" r="2.35"/><circle cx="267.21" cy="74.04" r="2.35"/><circle cx="270.71" cy="75.11" r="2.35"/><circle cx="274.20" cy="76.19" r="2.35"/><circle cx="277.68" cy="77.27" r="2.35"/><circle cx="281.17" cy="78.36" r="2.35"/><circle cx="284.67" cy="79.46" r="2.35"/><circle cx="288.29" cy="80.59" r="2.35"/><circle cx="291.87" cy="81.72" r="2.35"/><circle cx="295.41" cy="82.84" r="2.35"/><circle cx="299.07" cy="83.99" r="2.35"/><circle cx="302.99" cy="85.23" r="2.35"/><circle cx="307.10" cy="86.52" r="2.35"/><circle cx="311.31" cy="87.83" r="2.35"/><circle cx="315.72" cy="89.20" r="2.35"/><circle cx="320.24" cy="90.58" r="2.35"/><circle cx="324.92" cy="92.00" r="2.35"/><circle cx="329.87" cy="93.48" r="2.35"/><circle cx="335.25" cy="95.05" r="2.35"/><circle cx="341.10" cy="96.72" r="2.35"/><circle cx="347.40" cy="99.00" r="2.35"/><circle cx="354.40" cy="100.30" r="2.35"/><circle cx="362.30" cy="101.80" r="2.35"/><circle cx="371.40" cy="103.00" r="2.35"/><circle cx="382.40" cy="104.00" r="2.35"/><circle cx="395.80" cy="107.00" r="2.35"/><circle cx="414.50" cy="111.30" r="2.35"/></g>
<path d="M98.07 284.00V286.70M94.97 284.00H101.17M94.97 286.70H101.17M103.46 268.00V270.70M100.36 268.00H106.56M100.36 270.70H106.56M108.70 253.86V256.56M105.60 253.86H111.80M105.60 256.56H111.80M113.85 241.39V244.09M110.75 241.39H116.95M110.75 244.09H116.95M118.90 230.76V233.46M115.80 230.76H122.00M115.80 233.46H122.00M123.81 222.04V224.74M120.71 222.04H126.91M120.71 224.74H126.91M128.66 214.76V217.46M125.56 214.76H131.76M125.56 217.46H131.76M133.41 208.56V211.26M130.31 208.56H136.51M130.31 211.26H136.51M138.09 203.11V205.81M134.99 203.11H141.19M134.99 205.81H141.19M142.74 198.26V200.96M139.64 198.26H145.84M139.64 200.96H145.84M147.33 194.02V196.72M144.23 194.02H150.43M144.23 196.72H150.43M151.83 190.34V193.04M148.73 190.34H154.93M148.73 193.04H154.93M156.28 187.14V189.84M153.18 187.14H159.38M153.18 189.84H159.38M160.67 184.39V187.09M157.57 184.39H163.77M157.57 187.09H163.77M165.00 182.04V184.74M161.90 182.04H168.10M161.90 184.74H168.10M169.27 180.40V182.40M166.17 180.40H172.37M166.17 182.40H172.37M173.49 178.73V180.73M170.39 178.73H176.59M170.39 180.73H176.59M177.66 177.36V179.36M174.56 177.36H180.76M174.56 179.36H180.76M181.82 176.22V178.22M178.72 176.22H184.92M178.72 178.22H184.92M185.86 175.33V177.33M182.76 175.33H188.96M182.76 177.33H188.96M189.76 174.64V176.64M186.66 174.64H192.86M186.66 176.64H192.86M193.70 174.11V176.11M190.60 174.11H196.80M190.60 176.11H196.80M197.64 173.71V175.71M194.54 173.71H200.74M194.54 175.71H200.74M201.57 173.43V175.43M198.47 173.43H204.67M198.47 175.43H204.67M205.46 173.25V175.25M202.36 173.25H208.56M202.36 175.25H208.56M209.30 173.18V175.18M206.20 173.18H212.40M206.20 175.18H212.40M213.08 173.19V175.19M209.98 173.19H216.18M209.98 175.19H216.18M216.89 173.28V175.28M213.79 173.28H219.99M213.79 175.28H219.99M220.71 173.46V175.46M217.61 173.46H223.81M217.61 175.46H223.81M224.42 173.70V175.70M221.32 173.70H227.52M221.32 175.70H227.52M228.11 174.01V176.01M225.01 174.01H231.21M225.01 176.01H231.21M231.76 174.38V176.38M228.66 174.38H234.86M228.66 176.38H234.86M235.36 174.80V176.80M232.26 174.80H238.46M232.26 176.80H238.46M238.98 175.27V177.27M235.88 175.27H242.08M235.88 177.27H242.08M242.58 175.79V177.79M239.48 175.79H245.68M239.48 177.79H245.68M246.15 176.35V178.35M243.05 176.35H249.25M243.05 178.35H249.25M249.69 176.95V178.95M246.59 176.95H252.79M246.59 178.95H252.79M253.22 177.58V179.58M250.12 177.58H256.32M250.12 179.58H256.32M256.74 178.23V180.23M253.64 178.23H259.84M253.64 180.23H259.84M260.23 178.92V180.92M257.13 178.92H263.33M257.13 180.92H263.33M263.71 179.62V181.62M260.61 179.62H266.81M260.61 181.62H266.81M267.21 180.35V182.35M264.11 180.35H270.31M264.11 182.35H270.31M270.71 181.10V183.10M267.61 181.10H273.81M267.61 183.10H273.81M274.20 181.86V183.86M271.10 181.86H277.30M271.10 183.86H277.30M277.68 182.63V184.63M274.58 182.63H280.78M274.58 184.63H280.78M281.17 183.41V185.41M278.07 183.41H284.27M278.07 185.41H284.27M284.67 184.20V186.20M281.57 184.20H287.77M281.57 186.20H287.77M288.29 185.02V187.02M285.19 185.02H291.39M285.19 187.02H291.39M291.87 185.82V187.82M288.77 185.82H294.97M288.77 187.82H294.97M295.41 186.61V188.61M292.31 186.61H298.51M292.31 188.61H298.51M299.07 187.42V189.42M295.97 187.42H302.17M295.97 189.42H302.17M302.99 188.26V190.26M299.89 188.26H306.09M299.89 190.26H306.09M307.10 189.13V191.13M304.00 189.13H310.20M304.00 191.13H310.20M311.31 189.99V191.99M308.21 189.99H314.41M308.21 191.99H314.41M315.72 190.84V192.84M312.62 190.84H318.82M312.62 192.84H318.82M320.24 191.68V193.68M317.14 191.68H323.34M317.14 193.68H323.34M324.92 192.48V194.48M321.82 192.48H328.02M321.82 194.48H328.02M329.87 193.27V195.27M326.77 193.27H332.97M326.77 195.27H332.97M335.25 194.06V196.06M332.15 194.06H338.35M332.15 196.06H338.35M341.10 194.25V197.45M337.70 194.25H344.50M337.70 197.45H344.50M347.49 195.03V198.23M344.09 195.03H350.89M344.09 198.23H350.89M354.50 195.80V199.00M351.10 195.80H357.90M351.10 199.00H357.90M362.30 197.00V201.20M358.90 197.00H365.70M358.90 201.20H365.70M371.40 195.40V199.60M368.00 195.40H374.80M368.00 199.60H374.80M382.60 198.10V203.30M379.20 198.10H386.00M379.20 203.30H386.00M396.20 196.60V202.40M392.80 196.60H399.60M392.80 202.40H399.60M415.00 198.00V205.40M411.60 198.00H418.40M411.60 205.40H418.40M438.40 199.80V210.10M435.00 199.80H441.80M435.00 210.10H441.80" stroke="#ff5f2e" stroke-width="1.7" fill="none"/>
<g fill="#ff5f2e"><circle cx="98.07" cy="285.35" r="2.35"/><circle cx="103.46" cy="269.35" r="2.35"/><circle cx="108.70" cy="255.21" r="2.35"/><circle cx="113.85" cy="242.74" r="2.35"/><circle cx="118.90" cy="232.11" r="2.35"/><circle cx="123.81" cy="223.39" r="2.35"/><circle cx="128.66" cy="216.11" r="2.35"/><circle cx="133.41" cy="209.91" r="2.35"/><circle cx="138.09" cy="204.46" r="2.35"/><circle cx="142.74" cy="199.61" r="2.35"/><circle cx="147.33" cy="195.37" r="2.35"/><circle cx="151.83" cy="191.69" r="2.35"/><circle cx="156.28" cy="188.49" r="2.35"/><circle cx="160.67" cy="185.74" r="2.35"/><circle cx="165.00" cy="183.39" r="2.35"/><circle cx="169.27" cy="181.40" r="2.35"/><circle cx="173.49" cy="179.73" r="2.35"/><circle cx="177.66" cy="178.36" r="2.35"/><circle cx="181.82" cy="177.22" r="2.35"/><circle cx="185.86" cy="176.33" r="2.35"/><circle cx="189.76" cy="175.64" r="2.35"/><circle cx="193.70" cy="175.11" r="2.35"/><circle cx="197.64" cy="174.71" r="2.35"/><circle cx="201.57" cy="174.43" r="2.35"/><circle cx="205.46" cy="174.25" r="2.35"/><circle cx="209.30" cy="174.18" r="2.35"/><circle cx="213.08" cy="174.19" r="2.35"/><circle cx="216.89" cy="174.28" r="2.35"/><circle cx="220.71" cy="174.46" r="2.35"/><circle cx="224.42" cy="174.70" r="2.35"/><circle cx="228.11" cy="175.01" r="2.35"/><circle cx="231.76" cy="175.38" r="2.35"/><circle cx="235.36" cy="175.80" r="2.35"/><circle cx="238.98" cy="176.27" r="2.35"/><circle cx="242.58" cy="176.79" r="2.35"/><circle cx="246.15" cy="177.35" r="2.35"/><circle cx="249.69" cy="177.95" r="2.35"/><circle cx="253.22" cy="178.58" r="2.35"/><circle cx="256.74" cy="179.23" r="2.35"/><circle cx="260.23" cy="179.92" r="2.35"/><circle cx="263.71" cy="180.62" r="2.35"/><circle cx="267.21" cy="181.35" r="2.35"/><circle cx="270.71" cy="182.10" r="2.35"/><circle cx="274.20" cy="182.86" r="2.35"/><circle cx="277.68" cy="183.63" r="2.35"/><circle cx="281.17" cy="184.41" r="2.35"/><circle cx="284.67" cy="185.20" r="2.35"/><circle cx="288.29" cy="186.02" r="2.35"/><circle cx="291.87" cy="186.82" r="2.35"/><circle cx="295.41" cy="187.61" r="2.35"/><circle cx="299.07" cy="188.42" r="2.35"/><circle cx="302.99" cy="189.26" r="2.35"/><circle cx="307.10" cy="190.13" r="2.35"/><circle cx="311.31" cy="190.99" r="2.35"/><circle cx="315.72" cy="191.84" r="2.35"/><circle cx="320.24" cy="192.68" r="2.35"/><circle cx="324.92" cy="193.48" r="2.35"/><circle cx="329.87" cy="194.27" r="2.35"/><circle cx="335.25" cy="195.06" r="2.35"/><circle cx="341.10" cy="195.85" r="2.35"/><circle cx="347.49" cy="196.63" r="2.35"/><circle cx="354.50" cy="197.40" r="2.35"/><circle cx="362.30" cy="199.10" r="2.35"/><circle cx="371.40" cy="197.50" r="2.35"/><circle cx="382.60" cy="200.60" r="2.35"/><circle cx="396.20" cy="199.40" r="2.35"/><circle cx="415.00" cy="201.50" r="2.35"/><circle cx="438.40" cy="204.90" r="2.35"/></g>
</g></g>
<path d="M62.949999999999996 24.13H509.90000000000003M63.8 33.35V370.75M509.05 33.35V370.75M74.1 380.05H498.75" fill="none" stroke="#000" stroke-width="1.7"/>
<path d="M63.8 24.95v8.4M63.8 380.85v-10.100000000000001M509.05 24.95v8.4M509.05 380.85v-10.100000000000001M63.0 380.05h11.100000000000001M509.85 380.05h-11.100000000000001" stroke="#585858" stroke-width="1.6" fill="none"/><path d="M63.80 380.05v-9.3M63.80 24.05v9.3M97.31 380.05v-5.8M97.31 24.05v5.8M116.91 380.05v-5.8M116.91 24.05v5.8M130.82 380.05v-5.8M130.82 24.05v5.8M141.60 380.05v-5.8M141.60 24.05v5.8M150.42 380.05v-5.8M150.42 24.05v5.8M157.87 380.05v-5.8M157.87 24.05v5.8M164.33 380.05v-5.8M164.33 24.05v5.8M170.02 380.05v-5.8M170.02 24.05v5.8M175.11 380.05v-9.3M175.11 24.05v9.3M208.62 380.05v-5.8M208.62 24.05v5.8M228.22 380.05v-5.8M228.22 24.05v5.8M242.13 380.05v-5.8M242.13 24.05v5.8M252.92 380.05v-5.8M252.92 24.05v5.8M261.73 380.05v-5.8M261.73 24.05v5.8M269.18 380.05v-5.8M269.18 24.05v5.8M275.64 380.05v-5.8M275.64 24.05v5.8M281.33 380.05v-5.8M281.33 24.05v5.8M286.43 380.05v-9.3M286.43 24.05v9.3M319.93 380.05v-5.8M319.93 24.05v5.8M339.53 380.05v-5.8M339.53 24.05v5.8M353.44 380.05v-5.8M353.44 24.05v5.8M364.23 380.05v-5.8M364.23 24.05v5.8M373.04 380.05v-5.8M373.04 24.05v5.8M380.49 380.05v-5.8M380.49 24.05v5.8M386.95 380.05v-5.8M386.95 24.05v5.8M392.64 380.05v-5.8M392.64 24.05v5.8M397.74 380.05v-9.3M397.74 24.05v9.3M431.25 380.05v-5.8M431.25 24.05v5.8M450.85 380.05v-5.8M450.85 24.05v5.8M464.75 380.05v-5.8M464.75 24.05v5.8M475.54 380.05v-5.8M475.54 24.05v5.8M484.36 380.05v-5.8M484.36 24.05v5.8M491.81 380.05v-5.8M491.81 24.05v5.8M498.26 380.05v-5.8M498.26 24.05v5.8M503.96 380.05v-5.8M503.96 24.05v5.8M509.05 380.05v-9.3M509.05 24.05v9.3M63.8 380.05h10.3M509.05 380.05h-10.3M63.8 331.33h6.2M509.05 331.33h-6.2M63.8 302.83h6.2M509.05 302.83h-6.2M63.8 282.61h6.2M509.05 282.61h-6.2M63.8 266.92h6.2M509.05 266.92h-6.2M63.8 254.11h6.2M509.05 254.11h-6.2M63.8 243.27h6.2M509.05 243.27h-6.2M63.8 233.88h6.2M509.05 233.88h-6.2M63.8 225.61h6.2M509.05 225.61h-6.2M63.8 218.20h10.3M509.05 218.20h-10.3M63.8 169.48h6.2M509.05 169.48h-6.2M63.8 140.98h6.2M509.05 140.98h-6.2M63.8 120.76h6.2M509.05 120.76h-6.2M63.8 105.07h6.2M509.05 105.07h-6.2M63.8 92.26h6.2M509.05 92.26h-6.2M63.8 81.42h6.2M509.05 81.42h-6.2M63.8 72.03h6.2M509.05 72.03h-6.2M63.8 63.76h6.2M509.05 63.76h-6.2M63.8 56.35h10.3M509.05 56.35h-10.3" stroke="#5e5e5e" stroke-width="1.2" fill="none"/>
<path d="M38.59 387.05H37.12V377.64Q36.58 378.15 35.72 378.66Q34.85 379.17 34.16 379.42V377.99Q35.40 377.41 36.33 376.58Q37.26 375.75 37.64 374.98H38.59Z" fill="#666666" stroke="#666666" stroke-width="0.2"/><text x="41.68" y="387.05" font-size="16.8">0<tspan font-size="12.2" dy="-7.0">2</tspan></text><path d="M38.59 225.20H37.12V215.79Q36.58 216.30 35.72 216.81Q34.85 217.32 34.16 217.57V216.14Q35.40 215.56 36.33 214.73Q37.26 213.90 37.64 213.12H38.59Z" fill="#666666" stroke="#666666" stroke-width="0.2"/><text x="41.68" y="225.2" font-size="16.8">0<tspan font-size="12.2" dy="-7.0">3</tspan></text><path d="M38.59 63.35H37.12V53.94Q36.58 54.45 35.72 54.96Q34.85 55.47 34.16 55.72V54.29Q35.40 53.71 36.33 52.88Q37.26 52.05 37.64 51.27H38.59Z" fill="#666666" stroke="#666666" stroke-width="0.2"/><text x="41.68" y="63.35" font-size="16.8">0<tspan font-size="12.2" dy="-7.0">4</tspan></text><path d="M64.39 399.80H62.91V390.39Q62.38 390.90 61.51 391.41Q60.65 391.92 59.96 392.17V390.74Q61.20 390.16 62.12 389.33Q63.05 388.50 63.44 387.73H64.39Z" fill="#666666" stroke="#666666" stroke-width="0.2"/><path d="M171.83 399.80H170.35V390.39Q169.82 390.90 168.95 391.41Q168.09 391.92 167.40 392.17V390.74Q168.64 390.16 169.56 389.33Q170.49 388.50 170.88 387.73H171.83Z" fill="#666666" stroke="#666666" stroke-width="0.2"/><text x="174.91" y="399.8" font-size="16.8">0</text><path d="M279.01 401.30H277.53V391.89Q277.00 392.40 276.13 392.91Q275.27 393.42 274.58 393.67V392.24Q275.82 391.66 276.74 390.83Q277.67 390.00 278.06 389.23H279.01Z" fill="#666666" stroke="#666666" stroke-width="0.2"/><text x="282.09" y="401.3" font-size="16.8">0<tspan font-size="12.2" dy="-7.0">2</tspan></text><path d="M390.32 401.30H388.84V391.89Q388.31 392.40 387.44 392.91Q386.58 393.42 385.89 393.67V392.24Q387.13 391.66 388.05 390.83Q388.98 390.00 389.37 389.23H390.32Z" fill="#666666" stroke="#666666" stroke-width="0.2"/><text x="393.40" y="401.3" font-size="16.8">0<tspan font-size="12.2" dy="-7.0">3</tspan></text><path d="M501.63 401.30H500.15V391.89Q499.62 392.40 498.75 392.91Q497.89 393.42 497.20 393.67V392.24Q498.44 391.66 499.36 390.83Q500.29 390.00 500.68 389.23H501.63Z" fill="#666666" stroke="#666666" stroke-width="0.2"/><text x="504.71" y="401.3" font-size="16.8">0<tspan font-size="12.2" dy="-7.0">4</tspan></text><path transform="translate(261.9 417.75) " d="M2.09 6.38C0.18 5.84 0.18 3.58 2.68 1.79C5.07 0.18 9.36 -0.30 11.33 1.19C12.82 2.68 11.03 5.07 8.35 5.84C7.16 6.20 5.96 6.32 5.07 6.20M6.74 0.48C5.96 4.17 4.77 8.35 3.28 10.73C2.56 11.81 1.85 12.52 1.07 12.28M5.37 6.32C7.16 8.05 8.65 10.73 11.15 12.05" stroke="#666666" stroke-width="1.35" fill="none" stroke-linecap="round"/><text x="279.0" y="430.6" font-size="16.55">[GV]</text>
<g transform="translate(18.3 320.0) rotate(-90)"><text x="14.4" y="-7.0" font-size="12.2" letter-spacing="-0.45">2.6</text><text x="32.4" y="0" font-size="16.8">Φ</text><text x="45.6" y="3.4" font-size="11.6">p</text><text x="55.9" y="3.4" font-size="11.6">He</text><text x="88.0" y="0" font-size="16.8">[GV</text><text x="118.0" y="-7.0" font-size="12.2" letter-spacing="-0.45">1.6</text><text x="141.9" y="0" font-size="16.8">m</text><text x="156.6" y="-7.0" font-size="12.2" letter-spacing="-0.45">−2</text><text x="171.3" y="0" font-size="16.8">s</text><text x="180.7" y="-7.0" font-size="12.2" letter-spacing="-0.45">−1</text><text x="201.5" y="0" font-size="16.8">sr</text><text x="213.5" y="-7.0" font-size="12.2" letter-spacing="-0.45">−1</text><text x="230.7" y="0" font-size="16.8">]</text><path transform="translate(1.0 -13.4) " d="M2.19 6.70C0.19 6.14 0.19 3.76 2.82 1.88C5.32 0.19 9.83 -0.31 11.90 1.25C13.46 2.82 11.58 5.32 8.77 6.14C7.51 6.51 6.26 6.64 5.32 6.51M7.08 0.50C6.26 4.38 5.01 8.77 3.44 11.27C2.69 12.40 1.94 13.15 1.13 12.90M5.64 6.64C7.51 8.45 9.08 11.27 11.71 12.65" stroke="#666666" stroke-width="1.35" fill="none" stroke-linecap="round"/></g>
<text x="204.0" y="87.2" font-size="18.35" fill="#3d3d9e" class="p">Proton</text>
<text x="202.4" y="200.4" font-size="18.4" fill="#ff5f2e" class="h">Helium</text>
</svg>
</body></html>
